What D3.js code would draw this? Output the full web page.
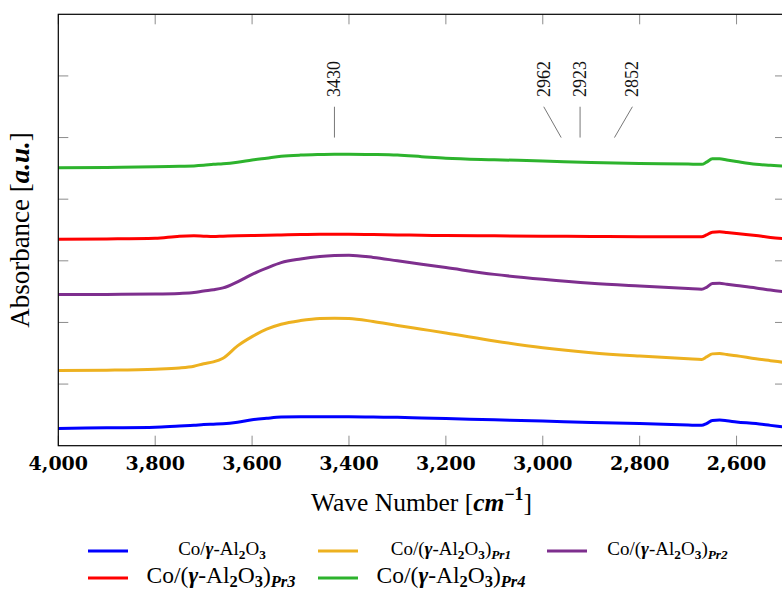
<!DOCTYPE html>
<html>
<head>
<meta charset="utf-8">
<script src="https://cdn.jsdelivr.net/npm/d3@7"></script>
<style>
    body { margin: 0; background: #fff; }
    svg { display: block; font-family: "Liberation Serif", "Times New Roman", serif; }
</style>
</head>
<body>
<svg id="chart" width="782" height="591"></svg>
<script>
// Spectres IR (absorbance décalée, u.a.)
const wavenumbers = [4000, 3900, 3800, 3750, 3720, 3700, 3680, 3660, 3630, 3600, 3570, 3540, 3500, 3460, 3430, 3400,
    3350, 3300, 3250, 3200, 3100, 3000, 2900, 2800, 2700, 2672, 2662, 2650, 2635, 2620, 2600, 2560, 2530, 2500];

const absBlue = [0.28, 0.29, 0.30, 0.32, 0.33, 0.345, 0.35, 0.355, 0.38, 0.42, 0.445, 0.465, 0.47, 0.47, 0.47, 0.47,
    0.465, 0.46, 0.45, 0.44, 0.42, 0.40, 0.375, 0.36, 0.335, 0.33, 0.36, 0.41, 0.415, 0.405, 0.385, 0.36, 0.33, 0.30];
const absPr1 = [1.22, 1.225, 1.24, 1.26, 1.29, 1.33, 1.36, 1.42, 1.62, 1.77, 1.89, 1.97, 2.03, 2.065, 2.07, 2.065,
    2.015, 1.95, 1.89, 1.83, 1.70, 1.59, 1.51, 1.455, 1.41, 1.40, 1.44, 1.49, 1.495, 1.48, 1.46, 1.41, 1.38, 1.35];
const absPr2 = [2.455, 2.455, 2.46, 2.47, 2.485, 2.51, 2.53, 2.56, 2.66, 2.78, 2.88, 2.97, 3.03, 3.07, 3.085, 3.09,
    3.055, 3.0, 2.945, 2.89, 2.78, 2.70, 2.635, 2.59, 2.55, 2.54, 2.57, 2.63, 2.635, 2.62, 2.60, 2.56, 2.525, 2.495];
const absPr3 = [3.35, 3.355, 3.365, 3.40, 3.405, 3.40, 3.395, 3.40, 3.405, 3.41, 3.415, 3.42, 3.425, 3.43, 3.43, 3.43,
    3.425, 3.42, 3.415, 3.41, 3.405, 3.40, 3.395, 3.39, 3.39, 3.39, 3.42, 3.465, 3.47, 3.46, 3.445, 3.41, 3.38, 3.36];
const absPr4 = [4.51, 4.515, 4.525, 4.535, 4.54, 4.55, 4.565, 4.575, 4.60, 4.635, 4.665, 4.695, 4.715, 4.725, 4.73, 4.73,
    4.725, 4.715, 4.69, 4.665, 4.64, 4.62, 4.595, 4.58, 4.57, 4.565, 4.60, 4.655, 4.655, 4.635, 4.61, 4.565, 4.55, 4.535];

const seriesSubscripts = ["", "Pr1", "Pr2", "Pr3", "Pr4"];
const seriesColors = ["#0000ff", "#edb120", "#7e2f8e", "#ff0000", "#2db32d"];
const seriesValues = [absBlue, absPr1, absPr2, absPr3, absPr4];

const xTicks = [4000, 3800, 3600, 3400, 3200, 3000, 2800, 2600];
const yTicks = [1, 2, 3, 4, 5, 6];

// Bandes annotées
const peakWavenumbers = [3430, 2962, 2923, 2852];
const peakLabelWavenumbers = [3430, 2998, 2923, 2815];

// Configuration
const plot = { left: 58.3, top: 14.3, right: 785, bottom: 445.7 };
const svg = d3.select("#chart");

const x = d3.scaleLinear().domain([4000, 2500]).range([plot.left, plot.right]);
const y = d3.scaleLinear().domain([0, 7]).range([plot.bottom, plot.top]);

// Texte enrichi (indices, exposants, gras/italique)
function addRich(textSel, parts, fs, subShift = 0.2) {
    let shift = 0;
    parts.forEach(p => {
        const target = p.sub ? fs * subShift : (p.sup ? -fs * 0.42 : 0);
        textSel.append("tspan")
            .attr("dy", target - shift)
            .style("font-size", (p.sub || p.sup) ? (fs * 0.7) + "px" : null)
            .style("font-weight", p.b ? "bold" : null)
            .style("font-style", p.i ? "italic" : null)
            .text(p.t);
        shift = target;
    });
}

// Ticks (à l'intérieur, sur les quatre côtés)
const tickLen = 10;
const ticks = svg.append("g").attr("stroke", "#8c8c8c").attr("stroke-width", 1);
xTicks.forEach(t => {
    ticks.append("line").attr("x1", x(t)).attr("x2", x(t)).attr("y1", plot.bottom).attr("y2", plot.bottom - tickLen);
    ticks.append("line").attr("x1", x(t)).attr("x2", x(t)).attr("y1", plot.top).attr("y2", plot.top + tickLen);
});
yTicks.forEach(t => {
    ticks.append("line").attr("x1", plot.left).attr("x2", plot.left + tickLen).attr("y1", y(t)).attr("y2", y(t));
    ticks.append("line").attr("x1", plot.right).attr("x2", plot.right - tickLen).attr("y1", y(t)).attr("y2", y(t));
});

// Clip
svg.append("clipPath").attr("id", "clip")
    .append("rect")
    .attr("x", plot.left).attr("y", plot.top)
    .attr("width", plot.right - plot.left).attr("height", plot.bottom - plot.top);

// Courbes
const line = d3.line()
    .x(d => x(d[0]))
    .y(d => y(d[1]))
    .curve(d3.curveMonotoneX);

svg.append("g").attr("clip-path", "url(#clip)")
    .selectAll("path")
    .data(seriesValues)
    .enter()
    .append("path")
    .attr("fill", "none")
    .attr("stroke", (d, i) => seriesColors[i])
    .attr("stroke-width", 3)
    .attr("stroke-linejoin", "round")
    .attr("d", d => line(d.map((v, i) => [wavenumbers[i], v])));

// Cadre
svg.append("rect")
    .attr("x", plot.left).attr("y", plot.top)
    .attr("width", plot.right - plot.left).attr("height", plot.bottom - plot.top)
    .attr("fill", "none").attr("stroke", "#000").attr("stroke-width", 1.2);

// Annotations
const ann = svg.append("g");
peakWavenumbers.forEach((p, i) => {
    const lx = x(peakLabelWavenumbers[i]);
    ann.append("line")
        .attr("x1", x(p)).attr("y1", y(5))
        .attr("x2", lx).attr("y2", y(5.5))
        .attr("stroke", "#777").attr("stroke-width", 1);
    ann.append("text")
        .attr("transform", `translate(${lx + 6},${y(5.66)}) rotate(-90)`)
        .style("font-size", "18px")
        .style("fill", "#111")
        .text(p);
});

// Labels des ticks X
svg.append("g").selectAll("text")
    .data(xTicks)
    .enter()
    .append("text")
    .attr("x", d => x(d))
    .attr("y", 470)
    .attr("text-anchor", "middle")
    .style("font-family", "'DejaVu Serif', serif")
    .style("font-weight", "bold")
    .style("font-size", "19px")
    .text(d3.format(","));

// Labels des axes
const xLabel = svg.append("text")
    .attr("x", (310 + 533) / 2).attr("y", 511)
    .attr("text-anchor", "middle")
    .style("font-size", "25.5px");
addRich(xLabel, [{ t: "Wave Number [" }, { t: "cm", b: true, i: true }, { t: "−1", sup: true, b: true }, { t: "]" }], 25.5);

const yLabel = svg.append("text")
    .attr("transform", `translate(29,${(plot.top + plot.bottom) / 2}) rotate(-90)`)
    .attr("text-anchor", "middle")
    .style("font-size", "27px");
addRich(yLabel, [{ t: "Absorbance [" }, { t: "a.u.", b: true, i: true }, { t: "]" }], 27);

// Légende
const legendPos = [
    { lx: 88, tx: 222, y: 551, base: 555, fs: 19, sub: 0.2 },
    { lx: 318, tx: 451, y: 551, base: 555, fs: 19, sub: 0.2 },
    { lx: 547, tx: 667.5, y: 551, base: 555, fs: 19, sub: 0.2 },
    { lx: 88, tx: 221, y: 578, base: 583, fs: 23.5, sub: 0.15 },
    { lx: 318, tx: 451, y: 578, base: 583, fs: 23.5, sub: 0.15 }
];
const legend = svg.append("g");
seriesSubscripts.forEach((s, i) => {
    const pos = legendPos[i];
    legend.append("line")
        .attr("x1", pos.lx).attr("x2", pos.lx + 40)
        .attr("y1", pos.y).attr("y2", pos.y)
        .attr("stroke", seriesColors[i]).attr("stroke-width", 3);
    const t = legend.append("text")
        .attr("x", pos.tx).attr("y", pos.base)
        .attr("text-anchor", "middle")
        .style("font-size", pos.fs + "px");
    const parts = s === ""
        ? [{ t: "Co/" }, { t: "γ", b: true, i: true }, { t: "-Al" }, { t: "2", sub: true, b: true }, { t: "O" }, { t: "3", sub: true, b: true }]
        : [{ t: "Co/(" }, { t: "γ", b: true, i: true }, { t: "-Al" }, { t: "2", sub: true, b: true }, { t: "O" }, { t: "3", sub: true, b: true }, { t: ")" }, { t: s, sub: true, b: true, i: true }];
    addRich(t, parts, pos.fs, pos.sub);
});
</script>
</body>
</html>
